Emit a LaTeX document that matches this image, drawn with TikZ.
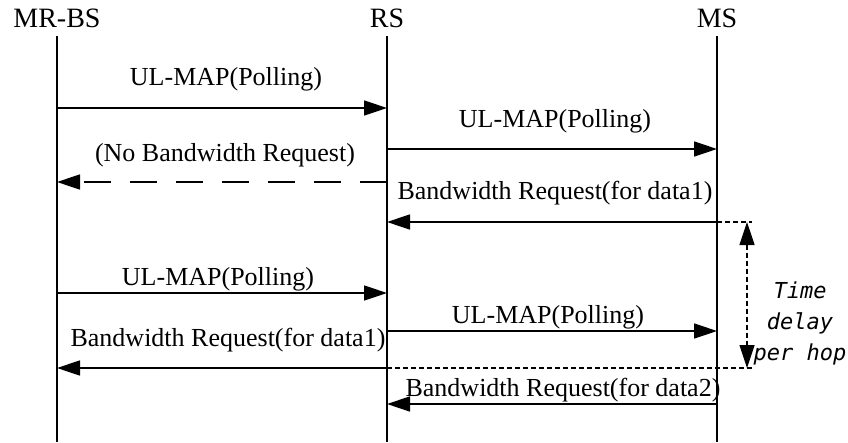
\documentclass[tikz,border=0pt]{standalone}
\usepackage{fontspec}
\setmainfont{Liberation Serif}
\newfontfamily\delayfont{DejaVu Sans Mono}[ItalicFont={DejaVu Sans Mono Oblique}]
\usetikzlibrary{arrows.meta}
\newcommand\msgpoll{UL-MAP(Polling)}
\newcommand\msgnobw{(No Bandwidth Request)}
\newcommand\msgbwone{Bandwidth Request(for data1)}
\newcommand\msgbwtwo{Bandwidth Request(for data2)}
\tikzstyle{entity} = [inner sep=0pt, font=\fontsize{28}{30}\selectfont]
\tikzstyle{msglabel} = [inner sep=0pt, font=\fontsize{26}{28}\selectfont]
\tikzstyle{delaytext} = [inner sep=0pt, align=center, font=\delayfont\itshape\fontsize{22}{31}\selectfont]
\tikzstyle{lifeline} = [line width=1.5pt]
\tikzstyle{msg} = [line width=1.5pt, ->]
\tikzstyle{nomsg} = [msg, dash pattern=on 27pt off 19pt]
\tikzstyle{delay} = [line width=1.2pt, dash pattern=on 5pt off 3pt]
\tikzset{>={Triangle[length=23pt,width=15pt]}, x=1pt, y=-1pt}

\begin{document}
\begin{tikzpicture}
\useasboundingbox (0,0) rectangle (848,442);
\node[entity] (bs) at (57,18) {MR-BS};
\node[entity] (rs) at (387,18) {RS};
\node[entity] (ms) at (717,18) {MS};
\coordinate (bstop) at (57,36);
\coordinate (rstop) at (387,36);
\coordinate (mstop) at (717,36);
\coordinate (bsend) at (57,442);
\coordinate (rsend) at (387,442);
\coordinate (msend) at (717,442);
\foreach \row/\y in {1/108,2/149,3/182,4/222,5/293,6/331,7/368,8/404} {
  \coordinate (bs\row) at (57,\y);
  \coordinate (rs\row) at (387,\y);
  \coordinate (ms\row) at (717,\y);
}
\draw[lifeline] (bstop) -- (bsend);
\draw[lifeline] (rstop) -- (rsend);
\draw[lifeline] (mstop) -- (msend);
% messages
\node[msglabel] (l1) at (226,79) {\msgpoll};
\node[msglabel] (l2) at (555,121) {\msgpoll};
\node[msglabel] (l3) at (225,155) {\msgnobw};
\node[msglabel] (l4) at (555,193) {\msgbwone};
\node[msglabel] (l5) at (218,279) {\msgpoll};
\node[msglabel] (l6) at (548,317) {\msgpoll};
\node[msglabel] (l7) at (228,340) {\msgbwone};
\node[msglabel] (l8) at (563,390) {\msgbwtwo};
\draw[msg] (bs1) -- (rs1);
\draw[msg] (rs2) -- (ms2);
\draw[nomsg] (rs3) -- (bs3);
\draw[msg] (ms4) -- (rs4);
\draw[msg] (bs5) -- (rs5);
\draw[msg] (rs6) -- (ms6);
\draw[msg] (rs7) -- (bs7);
\draw[msg] (ms8) -- (rs8);
% delay per hop
\coordinate (dtop) at (752,222);
\coordinate (dbot) at (752,368);
\coordinate (vtop) at (747,222);
\coordinate (vbot) at (747,368);
\draw[delay] (ms4) -- (dtop);
\draw[delay] (rs7) -- (dbot);
\draw[delay, <->] (vtop) -- (vbot);
\node[delaytext] (dl) at (800,323) {Time\\delay\\per hop};
\end{tikzpicture}
\end{document}
